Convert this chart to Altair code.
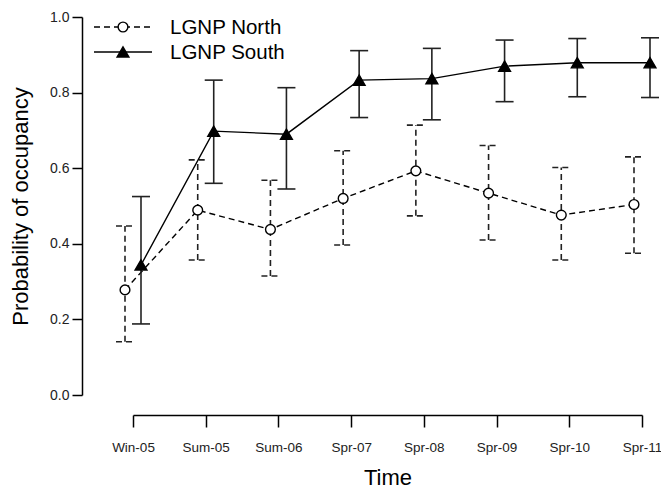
import json
import altair as alt
import pandas as pd

times = ["Win-05", "Sum-05", "Sum-06", "Spr-07", "Spr-08", "Spr-09", "Spr-10", "Spr-11"]

north_est = [0.278, 0.489, 0.438, 0.520, 0.593, 0.534, 0.476, 0.504]
north_lo = [0.141, 0.357, 0.315, 0.397, 0.474, 0.410, 0.357, 0.375]
north_hi = [0.447, 0.622, 0.568, 0.646, 0.714, 0.660, 0.602, 0.630]

south_est = [0.344, 0.698, 0.690, 0.833, 0.837, 0.870, 0.879, 0.879]
south_lo = [0.188, 0.560, 0.545, 0.734, 0.728, 0.776, 0.789, 0.787]
south_hi = [0.525, 0.833, 0.813, 0.911, 0.917, 0.939, 0.943, 0.945]

series_names = ["LGNP North", "LGNP South"]


def frame(name, est, lo, hi):
    return pd.DataFrame({
        "time": times,
        "idx": list(range(len(times))),
        "series": name,
        "est": est,
        "lo": lo,
        "hi": hi,
    })


north = frame(series_names[0], north_est, north_lo, north_hi)
south = frame(series_names[1], south_est, south_lo, south_hi)

label_expr = "%s[datum.value]" % json.dumps(times)

x_scale = alt.Scale(domain=[0, len(times) - 1], nice=False, zero=False)
y_scale = alt.Scale(domain=[0, 1], nice=False)

x_axis = alt.Axis(
    values=list(range(len(times))), labelExpr=label_expr, title="Time",
    offset=20, tickSize=12, labelPadding=13, labelFontSize=13.5,
    titleFontSize=22, titleFontWeight="normal", titlePadding=14,
    grid=False, domainColor="black", tickColor="black", domainWidth=1.5,
    tickWidth=1.5, labelColor="#222", titleColor="black",
    labelFlush=False, labelOverlap=False, labelBound=False,
)
y_axis = alt.Axis(
    values=[0, 0.2, 0.4, 0.6, 0.8, 1.0], format=".1f",
    title="Probability of occupancy", offset=51, tickSize=10,
    labelPadding=3, labelFontSize=14, titleFontSize=22,
    titleFontWeight="normal", titlePadding=17, grid=False,
    domainColor="black", tickColor="black", domainWidth=1.5, tickWidth=1.5,
    labelColor="#222", titleColor="black",
    labelFlush=False, labelOverlap=False, labelBound=False,
)

X = alt.X("idx:Q", scale=x_scale, axis=x_axis)
Y = alt.Y("est:Q", scale=y_scale, axis=y_axis)


def series_layers(df, off, dash, shape, fill, size):
    base = alt.Chart(df)
    extra = {"strokeDash": dash} if dash else {}
    line = base.mark_line(color="black", strokeWidth=1.4, xOffset=off, **extra).encode(x=X, y=Y)
    bar = base.mark_rule(color="#222", strokeWidth=1.6, xOffset=off, **extra).encode(
        x="idx:Q", y="lo:Q", y2="hi:Q")
    cap_hi = base.mark_rule(color="#222", strokeWidth=1.6, xOffset=off - 9,
                            x2Offset=off + 9, **extra).encode(
        x="idx:Q", x2="idx:Q", y="hi:Q")
    cap_lo = base.mark_rule(color="#222", strokeWidth=1.6, xOffset=off - 9,
                            x2Offset=off + 9, **extra).encode(
        x="idx:Q", x2="idx:Q", y="lo:Q")
    pts = base.mark_point(shape=shape, filled=True, fill=fill, stroke="black",
                          strokeWidth=1.4, size=size, opacity=1, xOffset=off).encode(
        x="idx:Q", y="est:Q")
    return [line, bar, cap_hi, cap_lo, pts]


layers = []
layers += series_layers(north, -8, [6, 4], "circle", "white", 95)
layers += series_layers(south, 8, None, "triangle-up", "black", 140)

# legend
leg = pd.DataFrame({"series": series_names})
leg_n = leg[leg.series == series_names[0]]
leg_s = leg[leg.series == series_names[1]]

legend_layers = [
    alt.Chart(leg_n).mark_rule(color="black", strokeWidth=1.4, strokeDash=[6, 4]).encode(
        x=alt.value(-39), x2=alt.value(19), y=alt.value(10)),
    alt.Chart(leg_n).mark_point(shape="circle", filled=True, fill="white", stroke="black",
                                strokeWidth=1.4, size=95, opacity=1).encode(
        x=alt.value(-10), y=alt.value(10)),
    alt.Chart(leg_n).mark_text(align="left", baseline="middle", fontSize=20.5,
                               font="Liberation Sans", color="black").encode(
        x=alt.value(37), y=alt.value(11), text="series:N"),
    alt.Chart(leg_s).mark_rule(color="black", strokeWidth=1.4).encode(
        x=alt.value(-39), x2=alt.value(19), y=alt.value(35)),
    alt.Chart(leg_s).mark_point(shape="triangle-up", filled=True, fill="black",
                                stroke="black", strokeWidth=1.4, size=140, opacity=1).encode(
        x=alt.value(-10), y=alt.value(35)),
    alt.Chart(leg_s).mark_text(align="left", baseline="middle", fontSize=20.5,
                               font="Liberation Sans", color="black").encode(
        x=alt.value(37), y=alt.value(36), text="series:N"),
]

chart = alt.layer(*layers, *legend_layers).properties(
    width=509, height=378,
    autosize=alt.AutoSizeParams(type="none"),
    padding={"left": 133, "top": 17, "right": 19, "bottom": 96},
    background="white",
).configure(font="Liberation Sans").configure_view(
    strokeWidth=0, strokeOpacity=0
).configure_axis(grid=False)

chart.save("out.html", embed_options={"renderer": "svg", "actions": False})
